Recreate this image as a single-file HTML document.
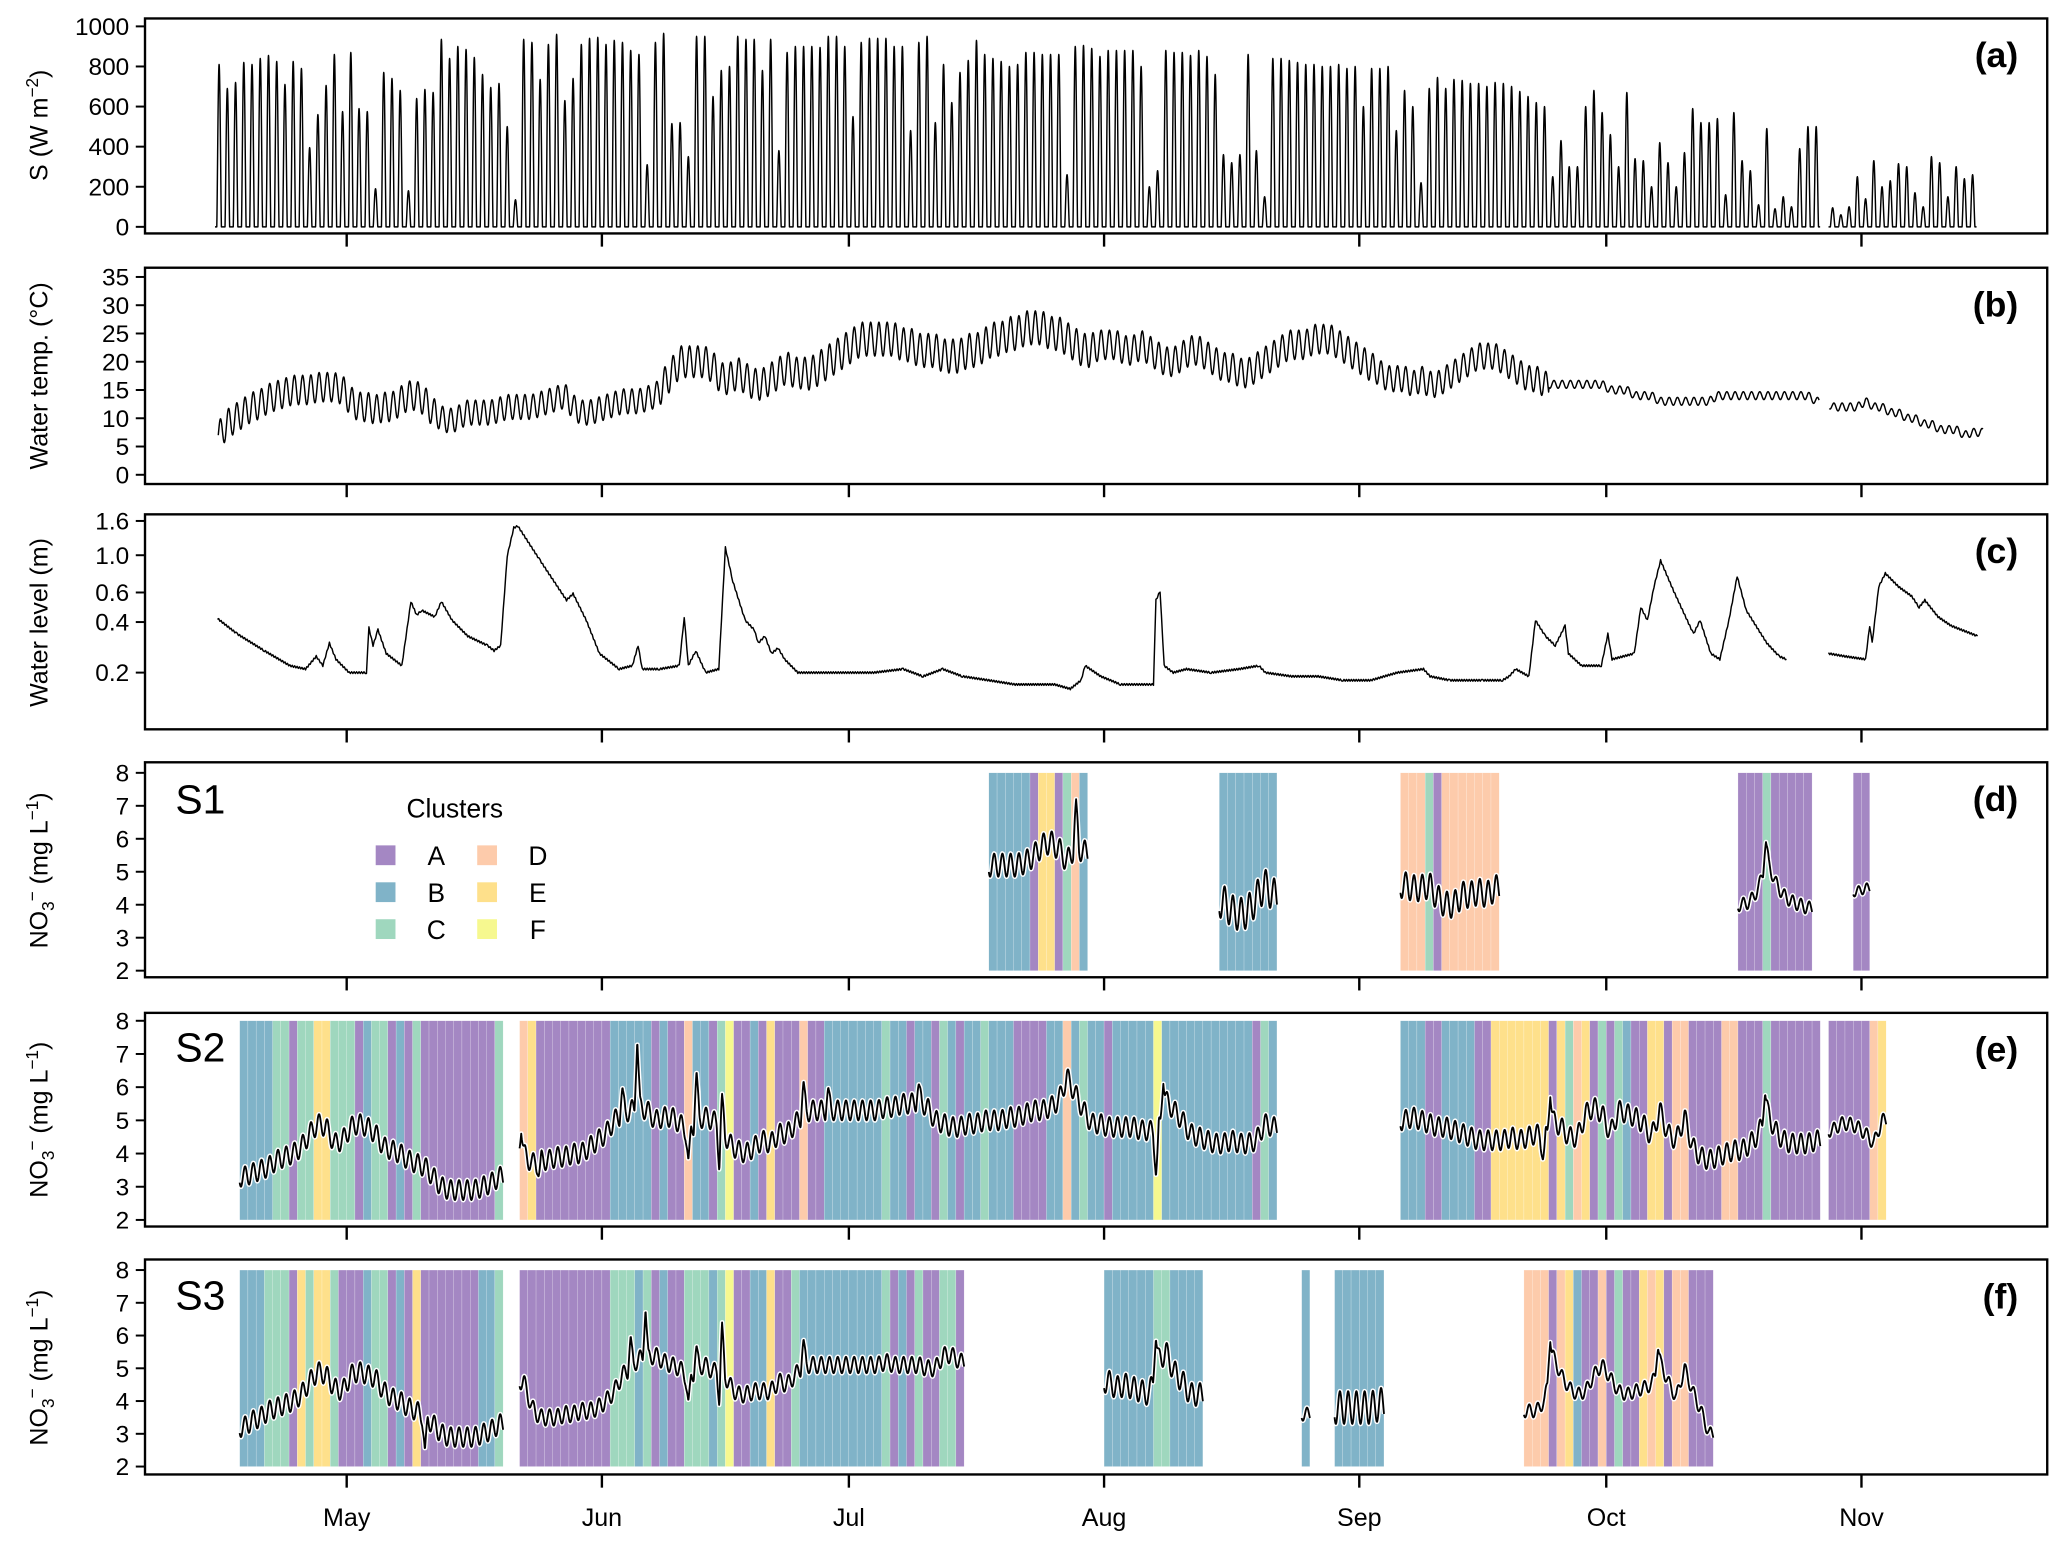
<!DOCTYPE html>
<html><head><meta charset="utf-8"><style>
html,body{margin:0;padding:0;background:#fff;}
svg{display:block;font-family:"Liberation Sans",Arial,sans-serif;}
</style></head><body>
<svg id="chart" xmlns="http://www.w3.org/2000/svg" width="2067" height="1547" viewBox="0 0 1568 1173" preserveAspectRatio="none">
<rect x="0" y="0" width="1568" height="1173" fill="#fff"/>
<g id="bands"></g>
<g id="lines"></g>
<g id="axes"></g>
<g id="legend">
  <text x="345" y="620" font-size="20" text-anchor="middle">Clusters</text>
  <rect x="285" y="641" width="15" height="15" fill="#a487c3"/>
  <text x="331" y="656" font-size="20" text-anchor="middle">A</text>
  <rect x="285" y="669" width="15" height="15" fill="#80b3c8"/>
  <text x="331" y="684" font-size="20" text-anchor="middle">B</text>
  <rect x="285" y="697" width="15" height="15" fill="#9fd7be"/>
  <text x="331" y="712" font-size="20" text-anchor="middle">C</text>
  <rect x="362" y="641" width="15" height="15" fill="#fdcbab"/>
  <text x="408" y="656" font-size="20" text-anchor="middle">D</text>
  <rect x="362" y="669" width="15" height="15" fill="#fee08b"/>
  <text x="408" y="684" font-size="20" text-anchor="middle">E</text>
  <rect x="362" y="697" width="15" height="15" fill="#f6f88f"/>
  <text x="408" y="712" font-size="20" text-anchor="middle">F</text>
</g>
<g>
  <text x="133" y="617" font-size="31">S1</text>
  <text x="133" y="805" font-size="31">S2</text>
  <text x="133" y="993" font-size="31">S3</text>
</g>
<g font-size="19" text-anchor="middle">
  <text transform="translate(36,95) rotate(-90)">S (W m<tspan dy="-7" font-size="13">−2</tspan><tspan dy="7">)</tspan></text>
  <text transform="translate(36,285) rotate(-90)">Water temp. (°C)</text>
  <text transform="translate(36,472) rotate(-90)">Water level (m)</text>
  <text transform="translate(36,660) rotate(-90)">NO<tspan dy="5" font-size="13">3</tspan><tspan dy="-12" font-size="13">−</tspan><tspan dy="7"> (mg L</tspan><tspan dy="-7" font-size="13">−1</tspan><tspan dy="7">)</tspan></text>
  <text transform="translate(36,849) rotate(-90)">NO<tspan dy="5" font-size="13">3</tspan><tspan dy="-12" font-size="13">−</tspan><tspan dy="7"> (mg L</tspan><tspan dy="-7" font-size="13">−1</tspan><tspan dy="7">)</tspan></text>
  <text transform="translate(36,1037) rotate(-90)">NO<tspan dy="5" font-size="13">3</tspan><tspan dy="-12" font-size="13">−</tspan><tspan dy="7"> (mg L</tspan><tspan dy="-7" font-size="13">−1</tspan><tspan dy="7">)</tspan></text>
</g>
</svg>
<script>
// ---------- data ----------
const monthLabels=['May','Jun','Jul','Aug','Sep','Oct','Nov'];
const monthDays=[0,31,61,92,123,153,184];
const solarTicks=[0,200,400,600,800,1000];
const tempTicks=[0,5,10,15,20,25,30,35];
const levelTicks=[0.2,0.4,0.6,1.0,1.6];
const no3Ticks=[2,3,4,5,6,7,8];

const solarStart1=-16;
const solarPeaks1=[810,690,720,820,810,840,855,825,710,825,790,395,560,705,860,575,870,590,575,190,770,740,680,180,640,685,670,935,840,900,885,845,760,695,715,500,135,935,920,735,910,960,630,740,910,940,945,910,930,920,
880,860,310,920,965,515,520,350,950,950,650,780,800,950,935,935,780,935,380,870,900,900,900,895,950,950,900,550,920,940,940,940,900,900,480,920,950,520,810,620,770,830,930,860,840,825,800,810,870,870,860,860,860,260,900,905,890,850,880,880,880,880,800,200,280,880,870,870,855,880,850,760,360,320,360,860,380,150,840,840,830,820,810,810,800,800,810,790,800,600,790,790,800,480,680,600,220,690,745,690,735,730,715,715,700,720,715,700,675,650,620,600,250,430,300,300,600,680,570,460,300,670,340,330,200,420,320,200,370,590,520,520,540,160,570,330,280,110,490,90,150,100,390,500,500];
const solarStart2=180;
const solarPeaks2=[95,60,100,250,140,330,200,230,315,300,170,100,350,320,150,300,240,260];

const tempStart=-16;
const tempMeans=[7,9,10,11,12,12.5,13.5,14,14.5,15,
15,15,15.5,15.5,15.5,15,13,12,12,11.5,
12,12,13,14,14,13,11,10,9.5,10,
11,11,11,11,11.5,12,12,12,12,12.5,
13,13.5,14,12,11,11,11.5,12,12.5,13,
13,13,13.5,14,16,18,20,20,20,20,
19,17,17,18,17,16,16,17,18,19,
18,18,18,19,20,21,22,23,24,24,
24,24,24,23,23,22,22,22,21,21,
21,22,22,23,24,24,25,25,26,26,
26,25,25,24,23,22,22,23,23,23,
22,22,23,22,21,20,20,21,22,22,
21,20,19,19,18,18,19,20,21,22,
23,23,23,24,24,24,23,22,21,20,
19,18,17,17,17,16,17,16,16,17,
18,19,20,21,21,21,20,19,18,17,
17,16,16,16,16,16,16,16,16,15,
15,15,14,14,14,13,13,13,13,13,
13,13,14,14,14,14,14,14,14,14,
14,14,14,14,13,13,12,12,12,12,
13,12,12,11,11,10,10,9,9,8,
8,8,7,7.5,7.5];
const tempAmpFrom=[-16,11,38,56,91,125,146];
const tempAmpVal=[2.6,2.2,2.8,3.0,2.6,2.3,0.7];

const levelDays=[-15.7,-13.3,-10,-6.9,-5,-3.7,-2.9,-2.1,-1.3,0.3,2.4,2.7,3.2,3.8,4.8,6.7,7.8,8.5,9.1,10.7,11.5,12.8,14.7,17.1,17.9,18.7,19.5,20.3,20.8,23.5,26.7,27.5,29.1,30.7,33.1,34.7,35.4,35.9,38,40.4,41,41.5,42.4,43.6,45.2,46,46.9,48.4,49.5,50,50.8,51.6,52.4,53.2,54.8,60,64,67.6,70,72.4,74.8,78,81.2,82.8,84.4,86,87.9,89.2,89.7,91.6,94,97.2,98,98.3,98.8,99.3,100.4,102,105,108.4,110.8,111.6,114.8,118,121,124.4,127.6,130.8,131.6,134,135.6,138,140.4,141.2,142,143.6,144.4,145.6,146.8,148,148.4,150,152.4,153.2,153.7,156.4,157.2,158,158.8,159.6,161.2,163.6,164.4,165.7,166.8,167.9,168.9,170,172.5,174,174.9,180,182,184.5,185,185.3,186.1,186.9,188.5,190.1,191,191.7,193.3,194.9,198.1];
const levelVals=[0.42,0.34,0.27,0.22,0.21,0.25,0.22,0.30,0.24,0.20,0.20,0.37,0.29,0.36,0.26,0.22,0.53,0.44,0.47,0.43,0.53,0.41,0.33,0.29,0.27,0.29,0.99,1.46,1.49,0.93,0.54,0.59,0.41,0.26,0.21,0.22,0.29,0.21,0.21,0.22,0.43,0.22,0.27,0.20,0.21,1.11,0.70,0.41,0.36,0.30,0.33,0.26,0.28,0.24,0.20,0.20,0.20,0.21,0.19,0.21,0.19,0.18,0.17,0.17,0.17,0.17,0.16,0.18,0.22,0.19,0.17,0.17,0.17,0.54,0.61,0.22,0.20,0.21,0.20,0.21,0.22,0.20,0.19,0.19,0.18,0.18,0.20,0.21,0.19,0.18,0.18,0.18,0.18,0.19,0.21,0.19,0.41,0.33,0.29,0.38,0.26,0.22,0.22,0.34,0.24,0.26,0.49,0.41,0.65,0.93,0.61,0.34,0.41,0.26,0.24,0.41,0.75,0.47,0.30,0.25,0.24,0.26,0.25,0.24,0.38,0.30,0.65,0.78,0.65,0.57,0.49,0.54,0.43,0.38,0.33];
const levelGapStart=175;

const s1Starts=[78,106,128,169,183];
const s1Clusters=["BBBBBAEEACDB","BBBBBBB","DDDCADDDDDDD","AAACAAAAA","AA"];
const s1Means=[[5.2,5.2,5.2,5.2,5.3,5.5,5.8,5.9,5.7,5.3,5.8,5.6],[4.1,3.8,3.7,3.8,4.2,4.6,4.3],[4.6,4.5,4.5,4.6,4.2,4.0,4.0,4.3,4.3,4.4,4.3,4.5],[4.0,4.1,4.5,5.4,4.7,4.3,4.1,4.0,3.9],[4.4,4.5]];
const s1Amps=[0.35,0.5,0.4,0.2,0.15];
const s1Spikes=[[88.6,7.2],[172.4,5.9]];

const s2Starts=[-13,21,128,180];
const s2Clusters=["BBBBCCACCEECCCABCCABACAAAAAAAAAC",
"DE"+"AAAAAAAAA"+"BBBBB"+"A"+"B"+"AA"+"D"+"BB"+"A"+"C"+"F"+"AA"+"B"+"A"+"E"+"AAA"+"D"+"AA"+"BBBBBBB"+"C"+"BB"+"A"+"BB"+"A"+"C"+"B"+"A"+"BB"+"C"+"BBB"+"AAAA"+"BB"+"D"+"B"+"C"+"BB"+"A"+"BBBBB"+"F"+"BBBBBBBBBBB"+"A"+"C"+"B",
"BBB"+"AA"+"BBBB"+"AA"+"EEEEEEE"+"A"+"E"+"C"+"D"+"E"+"A"+"C"+"A"+"C"+"B"+"AA"+"EE"+"A"+"DD"+"AAAA"+"DD"+"AAA"+"C"+"AAAAAA",
"AAAAADE"];
const s2Means=[[3.3,3.4,3.5,3.6,3.8,3.9,4.0,4.2,4.6,4.9,4.8,4.3,4.4,4.8,4.9,4.8,4.6,4.2,4.1,4.0,3.8,3.7,3.6,3.3,3.0,2.9,2.9,2.9,2.9,3.0,3.1,3.3],
[4.0,3.7,3.8,3.8,3.9,3.9,4.0,4.0,4.2,4.4,4.6,5.0,5.2,5.3,5.4,5.3,5.0,5.1,5.1,4.9,4.6,5.0,5.1,5.0,4.8,4.3,4.1,4.0,4.2,4.4,4.3,4.6,4.6,4.9,5.2,5.3,5.3,5.3,5.3,5.3,5.3,5.3,5.3,5.3,5.4,5.4,5.5,5.5,5.6,5.4,5.0,4.9,4.8,4.8,4.9,4.9,5.0,5.0,5.0,5.1,5.1,5.2,5.3,5.3,5.4,5.6,6.3,5.8,5.3,4.9,4.9,4.8,4.8,4.8,4.8,4.7,4.7,4.6,5.6,5.3,5.0,4.6,4.5,4.4,4.3,4.3,4.4,4.3,4.3,4.4,4.9,4.8],
[5.0,5.1,5.0,4.9,4.8,4.8,4.7,4.6,4.5,4.4,4.4,4.4,4.4,4.5,4.4,4.5,4.6,4.4,5.0,4.8,4.5,4.5,5.2,5.4,5.2,4.6,5.3,5.2,5.1,4.9,4.5,5.3,4.6,4.4,5.1,4.2,3.9,3.8,3.9,4.0,4.1,4.1,4.3,4.6,5.3,4.7,4.4,4.3,4.3,4.3,4.4],
[4.7,4.9,4.9,4.8,4.6,4.3,5.0]];
const s2Amps=[0.3,0.3,0.3,0.2];
const s2Spikes=[[21.2,4.6],[23.3,3.3],[33.5,6.0],[35.3,7.4],[41.5,3.8],[42.5,6.5],[45.3,3.3],[45.6,5.8],[55.5,6.2],[58.5,6.0],[69.5,6.1],[98.3,3.3],[99.2,6.1],[145.3,3.8],[146.2,5.7],[172.3,5.8]];

const s3Starts=[-13,21,92,116,120,143];
const s3Clusters=["BBBCCCAECEECAAABCCABAEAAAAAAABBC",
"AAAAAAAAAAA"+"CCC"+"B"+"C"+"A"+"B"+"AA"+"CCC"+"B"+"C"+"F"+"AA"+"BB"+"E"+"AA"+"C"+"BBBBBBBBBB"+"C"+"A"+"B"+"A"+"C"+"AA"+"CC"+"A",
"BBBBBBCCBBBB","B","BBBBBB",
"DDD"+"A"+"D"+"E"+"B"+"AA"+"D"+"A"+"C"+"AA"+"E"+"D"+"E"+"A"+"DD"+"AAA"];
const s3Means=[[3.2,3.4,3.5,3.7,3.8,3.9,4.0,4.2,4.6,4.9,4.8,4.4,4.3,4.8,4.9,4.8,4.7,4.3,4.1,4.0,3.8,3.7,3.5,3.3,3.0,2.9,2.9,2.9,2.9,3.0,3.1,3.3],
[4.6,3.8,3.5,3.5,3.5,3.6,3.6,3.7,3.7,3.8,4.0,4.3,4.8,5.0,5.3,5.3,5.4,5.2,5.1,5.0,4.6,5.0,5.1,4.9,5.0,4.5,4.2,4.2,4.3,4.3,4.3,4.6,4.5,4.8,5.1,5.1,5.1,5.1,5.1,5.1,5.1,5.1,5.1,5.1,5.2,5.1,5.1,5.1,5.1,5.0,5.0,5.4,5.4,5.2],
[4.6,4.4,4.5,4.4,4.3,4.2,5.2,5.5,4.9,4.6,4.2,4.2],[3.6],[3.8,3.8,3.8,3.8,3.8,3.9],
[3.7,3.7,4.0,5.4,4.8,4.4,4.2,4.3,4.8,5.1,4.7,4.3,4.2,4.3,4.4,4.5,5.2,4.6,4.1,5.0,4.3,3.7,3.0]];
const s3Amps=[0.3,0.25,0.35,0.2,0.5,0.2];
const s3Spikes=[[34.5,6.0],[36.3,6.8],[41.5,4.0],[42.5,5.7],[45.3,3.7],[45.6,6.4],[55.5,5.9],[98.3,5.9],[146.2,5.8],[159.3,5.6],[9.5,2.5]];

const clusterColors={A:'#a487c3',B:'#80b3c8',C:'#9fd7be',D:'#fdcbab',E:'#fee08b',F:'#f6f88f'};

// ---------- drawing ----------
const NS='http://www.w3.org/2000/svg';
const bandsG=document.getElementById('bands');
const linesG=document.getElementById('lines');
const axesG=document.getElementById('axes');
function mk(tag,attrs,parent){const e=document.createElementNS(NS,tag);for(const k in attrs)e.setAttribute(k,attrs[k]);parent.appendChild(e);return e;}
const X0=110,X1=1553;
function xs(d){return 263+6.245*d;}
function lin(v0,y0,v1,y1){return v=>y0+(v-v0)*(y1-y0)/(v1-v0);}
const ySolar=lin(0,172,1000,20);
const yTemp=lin(0,360,35,210);
const yLevel=v=>510-55.3*Math.log(v/0.2);
const yS1=lin(2,736,8,586), yS2=lin(2,925,8,774), yS3=lin(2,1112,8,963);

const panels=[
 {id:'a',top:14,bot:177,ticks:solarTicks,f:ySolar,fmt:v=>String(v),tag:'(a)'},
 {id:'b',top:203,bot:367,ticks:tempTicks,f:yTemp,fmt:v=>String(v),tag:'(b)'},
 {id:'c',top:390,bot:553,ticks:levelTicks,f:yLevel,fmt:v=>v.toFixed(1),tag:'(c)'},
 {id:'d',top:578,bot:741,ticks:no3Ticks,f:yS1,fmt:v=>String(v),tag:'(d)'},
 {id:'e',top:768,bot:930,ticks:no3Ticks,f:yS2,fmt:v=>String(v),tag:'(e)'},
 {id:'f',top:955,bot:1118,ticks:no3Ticks,f:yS3,fmt:v=>String(v),tag:'(f)'}
];
panels.forEach(p=>{
  const box=mk('rect',{x:X0,y:p.top,width:X1-X0,height:p.bot-p.top,fill:'none',stroke:'#000','stroke-width':1.8},axesG);
  
  
  p.ticks.forEach(t=>{
    const y=p.f(t);
    const tk=mk('line',{x1:X0-7,x2:X0,y1:y,y2:y,stroke:'#000','stroke-width':1.5},axesG);
    
    
    const tl=mk('text',{x:X0-12,y:y+6.5,'font-size':18.5,'text-anchor':'end'},axesG);
    tl.textContent=p.fmt(t);
    
    
  });
  monthDays.forEach(d=>{
    const x=xs(d);
    const tk=mk('line',{x1:x,x2:x,y1:p.bot,y2:p.bot+10,stroke:'#000','stroke-width':1.8},axesG);
    
    
  });
  const tg=mk('text',{x:1531,y:p.top+37,'font-size':27,'font-weight':'bold','text-anchor':'end'},axesG);
  tg.textContent=p.tag;
  
  
});
monthLabels.forEach((m,i)=>{
  const tl=mk('text',{x:xs(monthDays[i]),y:1157,'font-size':19,'text-anchor':'middle'},axesG);
  tl.textContent=m;
  
  
});

function pathD(pts){return pts.map((p,i)=>(i?'L':'M')+p[0].toFixed(2)+' '+p[1].toFixed(2)).join('');}
function addLine(pts,name,halo){
  if(halo){
    const h=mk('path',{d:pathD(pts),fill:'none',stroke:'#fff','stroke-width':3.6,'stroke-linejoin':'round'},linesG);
    
    
  }
  const l=mk('path',{d:pathD(pts),fill:'none',stroke:'#000','stroke-width':halo?1.4:1.1,'stroke-linejoin':'round'},linesG);
  
  
}

// solar radiation
function solarSeg(start,peaks){
  const pts=[];
  for(let t=start;t<=start+peaks.length;t+=0.02){
    const i=Math.floor(t-start);const fr=t-Math.floor(t);
    const pk=peaks[Math.min(i,peaks.length-1)];
    let v=0;if(fr>0.22&&fr<0.78)v=pk*Math.pow(Math.sin(Math.PI*(fr-0.22)/0.56),1.3);
    pts.push([xs(t),ySolar(v)]);
  }
  return pts;
}
addLine(solarSeg(solarStart1,solarPeaks1),'solar-radiation-line-1',false);
addLine(solarSeg(solarStart2,solarPeaks2),'solar-radiation-line-2',false);

// water temperature
function interpDaily(arr,start,t){
  const u=t-start-0.5;const i=Math.floor(u);
  const a=arr[Math.max(0,Math.min(arr.length-1,i))],b=arr[Math.max(0,Math.min(arr.length-1,i+1))];
  return a+(b-a)*(u-i);
}
function tempAmp(t){let a=tempAmpVal[0];tempAmpFrom.forEach((f,i)=>{if(t>=f)a=tempAmpVal[i];});return a;}
(function(){
  let seg=[];const segs=[];
  for(let t=tempStart+0.4;t<=tempStart+tempMeans.length-0.2;t+=0.05){
    if(t>178.9&&t<180.1){if(seg.length){segs.push(seg);seg=[];}continue;}
    const v=interpDaily(tempMeans,tempStart,t)+tempAmp(t)*Math.sin(2*Math.PI*(t-Math.floor(t)-0.4));
    seg.push([xs(t),yTemp(v)]);
  }
  segs.push(seg);
  segs.forEach((s,i)=>addLine(s,'water-temperature-line-'+(i+1),false));
})();

// water level (linear interpolation in log space with small sensor jitter)
(function(){
  const segs=[[],[]];
  for(let i=0;i<levelDays.length-1;i++){
    const d0=levelDays[i],d1=levelDays[i+1];
    if(d0<levelGapStart&&d1>levelGapStart)continue;
    const seg=d0<levelGapStart?segs[0]:segs[1];
    const l0=Math.log(levelVals[i]),l1=Math.log(levelVals[i+1]);
    const n=Math.max(1,Math.round((d1-d0)/0.15));
    for(let k=0;k<n;k++){
      const t=d0+(d1-d0)*k/n;
      const v=Math.exp(l0+(l1-l0)*k/n);
      const j=((k+i)%2?1:-1)*0.012*v;
      seg.push([xs(t),yLevel(v+j)]);
    }
    if(i===levelDays.length-2||(d1<levelGapStart&&levelDays[i+2]>levelGapStart))seg.push([xs(d1),yLevel(levelVals[i+1])]);
  }
  segs.forEach((s,i)=>addLine(s,'water-level-line-'+(i+1),false));
})();

// nitrate panels
function drawStation(name,starts,clusters,means,amps,spikes,yf){
  starts.forEach((st,b)=>{
    const codes=clusters[b];
    for(let k=0;k<codes.length;k++){
      const r=mk('rect',{x:xs(st+k),y:yf(8),width:xs(st+k+1)-xs(st+k),height:yf(2)-yf(8),fill:clusterColors[codes[k]],stroke:'#fff','stroke-width':0.25,'stroke-opacity':0.6},bandsG);
      
      
    }
    const mv=means[b];const pts=[];
    for(let t=st;t<=st+mv.length+1e-6;t+=0.04){
      let v=interpDaily(mv,st,t)+amps[b]*Math.sin(2*Math.PI*(t-Math.floor(t)-0.4));
      spikes.forEach(s=>{const dd=Math.abs(t-s[0]);if(dd<0.35&&s[0]>=st&&s[0]<=st+mv.length)v=v+(s[1]-v)*(1-dd/0.35);});
      pts.push([xs(t),yf(v)]);
    }
    addLine(pts,name+'-nitrate-line-'+(b+1),true);
  });
}
drawStation('s1',s1Starts,s1Clusters,s1Means,s1Amps,s1Spikes,yS1);
drawStation('s2',s2Starts,s2Clusters,s2Means,s2Amps,s2Spikes,yS2);
drawStation('s3',s3Starts,s3Clusters,s3Means,s3Amps,s3Spikes,yS3);
</script>
</body></html>
